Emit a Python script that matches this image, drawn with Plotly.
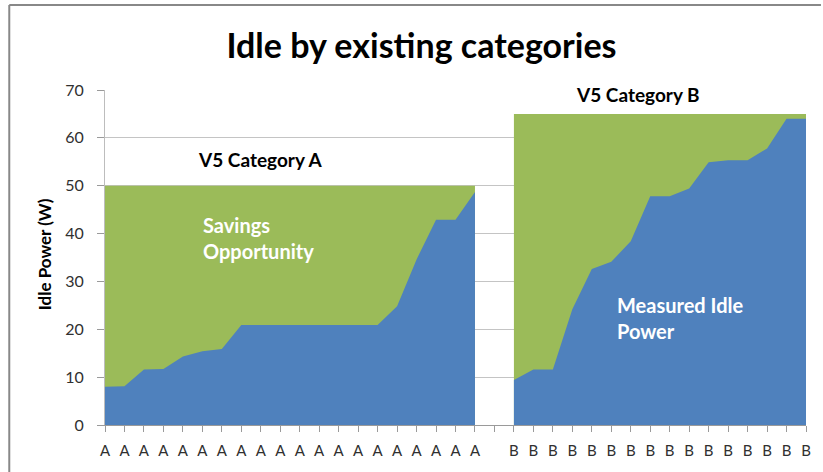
import plotly.graph_objects as go

# Data
measured_a = [8.0, 8.1, 11.6, 11.7, 14.3, 15.4, 15.9, 20.9, 20.9, 20.9, 20.9, 20.9, 20.9, 20.9, 20.9,
              24.8, 34.6, 42.9, 42.9, 48.7]
limit_a = [50, 50, 50, 50, 50, 50, 50, 50, 50, 50, 50, 50, 50, 50, 50, 50, 50, 50, 50, 50]
measured_b = [9.4, 11.6, 11.6, 24.2, 32.6, 34.1, 38.4, 47.8, 47.8, 49.4, 54.9, 55.3, 55.3, 57.8, 64.0, 64.0]
limit_b = [65, 65, 65, 65, 65, 65, 65, 65, 65, 65, 65, 65, 65, 65, 65, 65]
tick_labels = ["A"] * 20 + [""] + ["B"] * 16

BLUE = "#4F81BD"
GREEN = "#9BBB59"

x_a = list(range(len(measured_a)))
x_b = list(range(len(measured_a) + 1, len(measured_a) + 1 + len(measured_b)))

fig = go.Figure()
for xs, lim, meas in [(x_a, limit_a, measured_a), (x_b, limit_b, measured_b)]:
    fig.add_trace(go.Scatter(x=xs, y=lim, mode="lines", line=dict(width=0, color=GREEN),
                             fill="tozeroy", fillcolor=GREEN, hoverinfo="skip", showlegend=False))
    fig.add_trace(go.Scatter(x=xs, y=meas, mode="lines", line=dict(width=0, color=BLUE),
                             fill="tozeroy", fillcolor=BLUE, showlegend=False))

FONT = "Lato"
L, R, T, B = 105, 15, 90, 47
PW, PH = 823 - L - R, 472 - T - B


def px(x):
    return (x - L) / PW


def py(y):
    return (472 - B - y) / PH


def note(text, x, y, size, color, **kw):
    d = dict(text=text, xref="paper", yref="paper", x=px(x), y=py(y), xanchor="center",
             yanchor="middle", showarrow=False, font=dict(size=size, color=color))
    d.update(kw)
    return d


fig.update_layout(
    width=823, height=472,
    margin=dict(l=L, r=R, t=T, b=B),
    paper_bgcolor="white", plot_bgcolor="white",
    font=dict(family=FONT, color="#404040"),
    title=dict(text="Idle by existing categories", x=421.5 / 823, xanchor="center",
               y=(472 - 46) / 472, yanchor="middle",
               font=dict(family=FONT, size=34, color="black", weight="bold")),
    xaxis=dict(range=[0, 36], tickmode="array", tickvals=list(range(len(tick_labels))),
               ticktext=tick_labels, ticks="outside", ticklen=6, tickcolor="#9a9a9a",
               showline=True, linecolor="#9a9a9a", linewidth=1, showgrid=False, zeroline=False,
               tickfont=dict(size=15, color="#303030"), ticklabelstandoff=6, fixedrange=True),
    yaxis=dict(range=[0, 70], dtick=10, ticks="outside", ticklen=7, tickcolor="#9a9a9a",
               showline=True, linecolor="#bdbdbd", linewidth=1, showgrid=True, gridcolor="#c4c4c4",
               gridwidth=1, zeroline=False, tickfont=dict(size=16, color="#303030"),
               ticklabelstandoff=10, fixedrange=True),
    annotations=[
        note("<b>Idle Power (W)</b>", 45, 254, 17, "black", textangle=-90),
        note("<b>V5 Category A</b>", 260, 159, 19, "black"),
        note("<b>V5 Category B</b>", 640, 94, 19, "black"),
        note("<b>Savings<br>Opportunity</b>", 201, 238, 20, "white", xanchor="left", align="left"),
        note("<b>Measured Idle<br>Power</b>", 616, 318, 20, "white", xanchor="left", align="left"),
    ],
    shapes=[
        dict(type="line", xref="paper", yref="paper", x0=px(9), x1=px(823),
             y0=py(5), y1=py(5), line=dict(color="#888888", width=2)),
        dict(type="line", xref="paper", yref="paper", x0=px(9), x1=px(9),
             y0=py(5), y1=py(480), line=dict(color="#888888", width=2)),
    ],
)

fig.write_html("out.html", config={"displayModeBar": False},
               post_script="document.body.style.margin='0';")
